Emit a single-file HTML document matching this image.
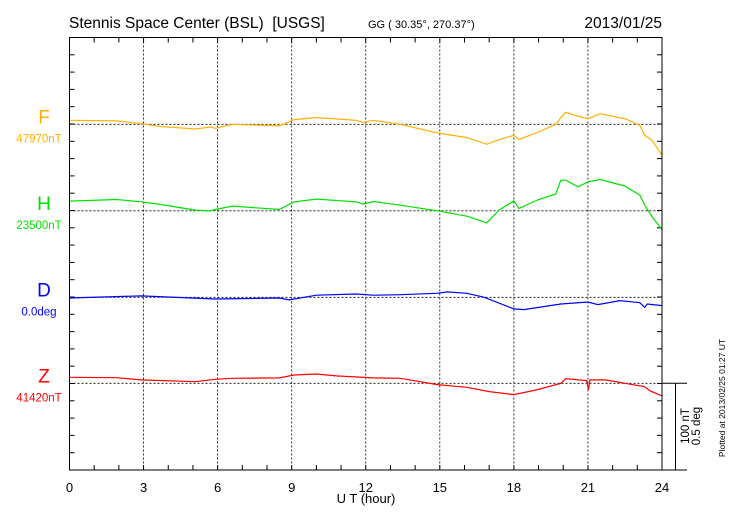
<!DOCTYPE html>
<html><head><meta charset="utf-8"><style>
body{margin:0;background:#fff;}
svg{display:block;font-family:"Liberation Sans",sans-serif;}
</style></head><body>
<svg id="chart" width="730" height="520" viewBox="0 0 730 520">
<text x="69" y="28" font-size="15.5" fill="#000" style="white-space:pre">Stennis Space Center (BSL)&#160;&#160;[USGS]</text>
<text x="368" y="28" font-size="11" fill="#000">GG ( 30.35°, 270.37°)</text>
<text x="662" y="28" font-size="15.5" text-anchor="end" fill="#000">2013/01/25</text>
<text x="366" y="503" font-size="13" text-anchor="middle" fill="#000">U T (hour)</text>
<text transform="translate(689,426) rotate(-90)" font-size="11.5" text-anchor="middle">100 nT</text>
<text transform="translate(700,426) rotate(-90)" font-size="11.5" text-anchor="middle">0.5 deg</text>
<text transform="translate(725,398) rotate(-90)" font-size="8.5" text-anchor="middle">Plotted at 2013/02/25 01:27 UT</text>
<g id="grid"></g><g id="series"></g>
<rect x="69.5" y="37.5" width="592.5" height="432.5" fill="none" stroke="#000" stroke-width="1"/>
<line x1="662" y1="383.3" x2="687" y2="383.3" stroke="#000"/>
<line x1="675.5" y1="383.3" x2="675.5" y2="470" stroke="#000"/>
<line x1="662" y1="470" x2="687" y2="470" stroke="#000"/>
</svg>
<script>
const hourTicks=[0,3,6,9,12,15,18,21,24];
const fHours=[0,1.9,2.9,3.6,5.1,5.7,5.9,6.6,8.5,9.1,10.0,11.6,11.9,12.3,13.4,14.9,16.1,16.9,17.4,18.0,18.2,19.0,19.7,19.9,20.1,20.6,21.0,21.5,22.1,22.5,23.1,23.3,23.6,24];
const fValues=[4.6,3.9,0.8,-2.3,-5.4,-3.1,-4.6,0,-1.9,5.4,7.7,4.6,2.3,4.6,0,-10,-15.4,-23.1,-17.7,-12.7,-17.7,-8.9,0,7.7,13.9,9.2,6.5,12.3,8.5,6.5,-1.2,-12.7,-18.5,-35.8];
const hHours=fHours;
const hValues=[11.2,13.1,10.4,7.7,0.8,0,1.5,5.4,1.5,10.4,13.5,10.4,7.7,10.8,6.5,0,-6.2,-13.9,0.8,11.6,2.7,13.1,19.3,35.4,35.4,27.7,33.5,36.2,31.6,28.5,18.1,6.5,-6.9,-21.6];
const dHours=[0,2.9,5.9,8.5,8.9,10.0,11.6,12.3,13.4,14.9,15.3,16.1,16.8,18.0,18.4,19.9,21.0,21.4,22.3,23.1,23.3,23.4,24];
const dValues=[-0.004,0.008,-0.010,-0.004,-0.015,0.012,0.019,0.012,0.015,0.023,0.031,0.023,0,-0.067,-0.071,-0.039,-0.027,-0.042,-0.019,-0.031,-0.058,-0.039,-0.048];
const zHours=[0,1.9,2.9,5.1,5.9,6.6,8.5,9.1,10.0,10.8,12.3,13.4,14.9,16.1,17.0,18.0,18.9,19.9,20.1,20.6,20.95,21.02,21.08,21.7,22.5,23.3,23.5,24];
const zValues=[6.9,6.5,3.9,1.9,4.6,5.8,6.2,9.6,10.8,8.5,6.2,5.8,-1.5,-4.6,-9.6,-13.1,-7.7,0,5.4,3.9,3.1,-7.7,3.9,3.9,0,-3.9,-8.5,-14.6];
const seriesNames=["F","H","D","Z"];
const seriesLabels=["47970nT","23500nT","0.0deg","41420nT"];
const seriesColors=["#ffb000","#00e000","#0000ff","#ff0000"];

const NS="http://www.w3.org/2000/svg";
const X0=69.5,X1=662,Y0=37.5,Y1=470;
const pxPerNT=86.5/100, pxPerDeg=86.5/0.5;
const baselines=[124.3,210.8,297.3,383.3];
const xs=h=>X0+(X1-X0)*h/24;
function mk(tag,attrs,parent){const e=document.createElementNS(NS,tag);for(const k in attrs)e.setAttribute(k,attrs[k]);parent.appendChild(e);return e;}
const grid=document.getElementById('grid'),ser=document.getElementById('series');
for(let h=1;h<24;h++){
  const l1=mk('line',{x1:xs(h),x2:xs(h),y1:Y0,y2:Y0+5,stroke:'#000'},grid);
  
  
  const l2=mk('line',{x1:xs(h),x2:xs(h),y1:Y1,y2:Y1-5,stroke:'#000'},grid);
  
  
}
hourTicks.forEach(h=>{
  if(h>0&&h<24){const g=mk('line',{x1:xs(h),x2:xs(h),y1:Y0,y2:Y1,stroke:'#000','stroke-width':0.8,'stroke-dasharray':'2,2'},grid);
  
  }
  const t=mk('text',{x:xs(h),y:492,'font-size':13,'text-anchor':'middle'},grid);
  t.textContent=h;
  
  
});
for(let i=1;i<25;i++){
  const y=Y0+(Y1-Y0)*i/25;
  const a=mk('line',{x1:X0,x2:X0+5,y1:y,y2:y,stroke:'#000'},grid);
  
  
  const b=mk('line',{x1:X1,x2:X1-5,y1:y,y2:y,stroke:'#000'},grid);
  
  
}
const allH=[fHours,hHours,dHours,zHours],allV=[fValues,hValues,dValues,zValues];
seriesNames.forEach((n,i)=>{
  const b=baselines[i],c=seriesColors[i];
  const bl=mk('line',{x1:X0,x2:X1,y1:b,y2:b,stroke:'#000','stroke-width':0.8,'stroke-dasharray':'2,2'},grid);
  
  
  const t=mk('text',{x:44,y:b-1,'font-size':19,'text-anchor':'middle',fill:c},ser);
  t.textContent=n;
  
  
  const t2=mk('text',{x:39,y:b+18,'font-size':11.5,'text-anchor':'middle',fill:c},ser);
  t2.textContent=seriesLabels[i];
  
  
  const k=n==="D"?pxPerDeg:pxPerNT;
  const pts=allH[i].map((h,j)=>xs(h).toFixed(1)+','+(b-allV[i][j]*k).toFixed(1)).join(' ');
  const p=mk('polyline',{points:pts,fill:'none',stroke:c,'stroke-width':1.2},ser);
  
  
});
</script>
</body></html>
